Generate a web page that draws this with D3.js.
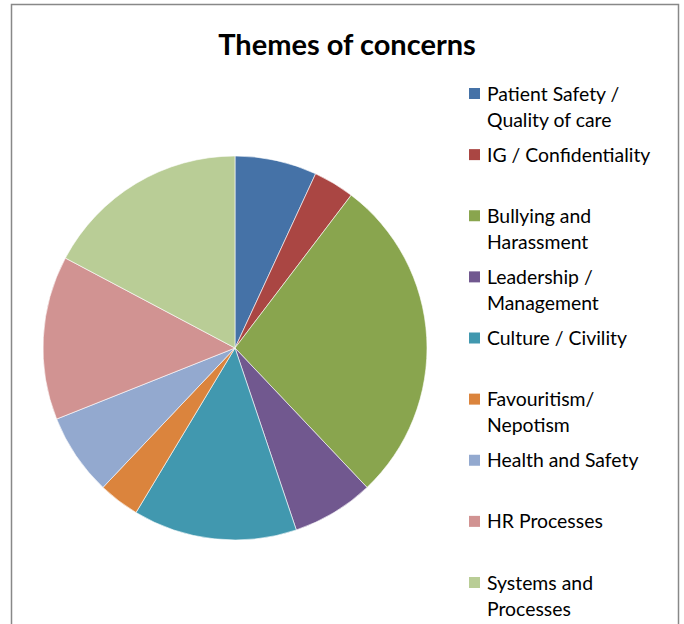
<!DOCTYPE html>
<html><head><meta charset="utf-8">
<script src="https://cdn.jsdelivr.net/npm/d3@7"></script>
<style>body{margin:0;background:#fff}svg{display:block}</style>
</head><body>
<svg id="c" width="684" height="624"></svg>
<script>
const categories = ["Patient Safety / Quality of care","IG / Confidentiality","Bullying and Harassment","Leadership / Management","Culture / Civility","Favouritism/ Nepotism","Health and Safety","HR Processes","Systems and Processes"];
const values = [2,1,8,2,4,1,2,4,5];
const colors = ["#4572A7","#AA4643","#89A54E","#71588F","#4198AF","#DB843D","#93A9CF","#D19392","#B9CD96"];
const legendLines = [["Patient Safety /","Quality of care"],["IG / Confidentiality"],["Bullying and","Harassment"],["Leadership /","Management"],["Culture / Civility"],["Favouritism/","Nepotism"],["Health and Safety"],["HR Processes"],["Systems and","Processes"]];
const title = "Themes of concerns";

const svg = d3.select("#c");
svg.append("rect").attr("x",11.5).attr("y",4.5).attr("width",667).attr("height",640)
  .attr("fill","#fff").attr("stroke","#888").attr("stroke-width",1.5);

svg.append("text").attr("x",347).attr("y",55).attr("text-anchor","middle")
  .attr("font-family","Lato").attr("font-weight","bold").attr("font-size",29)
  .attr("fill","#000").text(title);

const data = categories.map((c,i)=>({c, v:values[i], col:colors[i]}));
const pie = d3.pie().value(d=>d.v).sort(null);
const arc = d3.arc().innerRadius(0).outerRadius(192);
const g = svg.append("g").attr("transform","translate(235,348)");
g.selectAll("path").data(pie(data)).join("path")
  .attr("d",arc).attr("fill",d=>d.data.col).attr("stroke","#fff").attr("stroke-width",0.6);

const ly = d3.scalePoint().domain(d3.range(categories.length)).range([94,583]);
const lg = svg.append("g");
data.forEach((d,i)=>{
  const y = ly(i);
  lg.append("rect").attr("x",469).attr("y",y-6).attr("width",11).attr("height",11).attr("fill",d.col);
  const t = lg.append("text").attr("x",487).attr("y",y+6.5)
    .attr("font-family","Lato").attr("font-size",19.4).attr("fill","#000");
  legendLines[i].forEach((ln,j)=>{
    t.append("tspan").attr("x",487).attr("dy",j===0?0:26).text(ln);
  });
});
</script>
</body></html>
